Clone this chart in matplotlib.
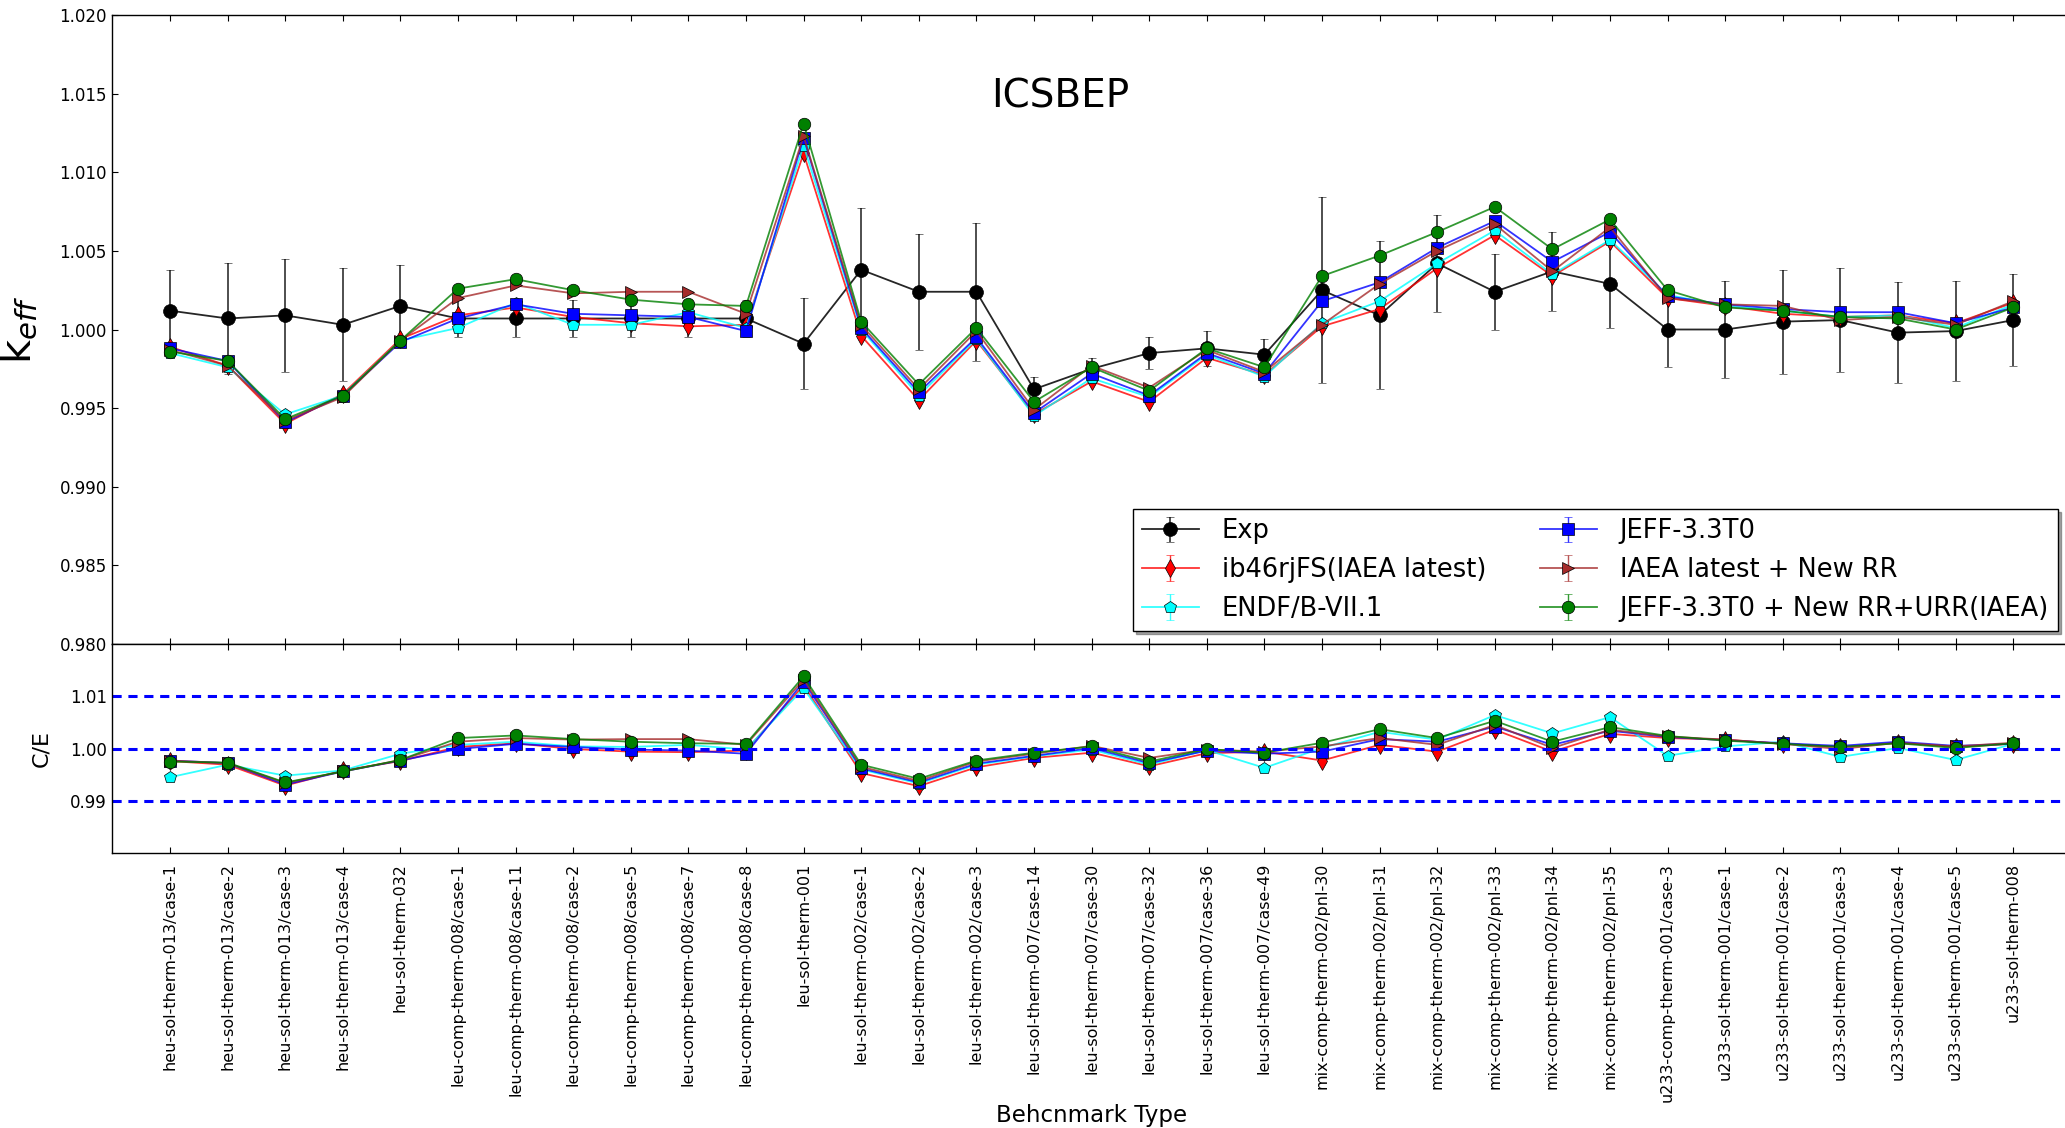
import matplotlib
matplotlib.use("Agg")
import matplotlib.pyplot as plt
from matplotlib.ticker import FormatStrFormatter, MultipleLocator

benchmarks = [
    "heu-sol-therm-013/case-1", "heu-sol-therm-013/case-2", "heu-sol-therm-013/case-3",
    "heu-sol-therm-013/case-4", "heu-sol-therm-032", "leu-comp-therm-008/case-1",
    "leu-comp-therm-008/case-11", "leu-comp-therm-008/case-2", "leu-comp-therm-008/case-5",
    "leu-comp-therm-008/case-7", "leu-comp-therm-008/case-8", "leu-sol-therm-001",
    "leu-sol-therm-002/case-1", "leu-sol-therm-002/case-2", "leu-sol-therm-002/case-3",
    "leu-sol-therm-007/case-14", "leu-sol-therm-007/case-30", "leu-sol-therm-007/case-32",
    "leu-sol-therm-007/case-36", "leu-sol-therm-007/case-49", "mix-comp-therm-002/pnl-30",
    "mix-comp-therm-002/pnl-31", "mix-comp-therm-002/pnl-32", "mix-comp-therm-002/pnl-33",
    "mix-comp-therm-002/pnl-34", "mix-comp-therm-002/pnl-35", "u233-comp-therm-001/case-3",
    "u233-sol-therm-001/case-1", "u233-sol-therm-001/case-2", "u233-sol-therm-001/case-3",
    "u233-sol-therm-001/case-4", "u233-sol-therm-001/case-5", "u233-sol-therm-008",
]

# benchmark k_eff and its 1-sigma uncertainty
exp_keff = [1.0012, 1.0007, 1.0009, 1.0003, 1.0015, 1.0007, 1.0007, 1.0007, 1.0007, 1.0007, 1.0007,
            0.9991, 1.0038, 1.0024, 1.0024, 0.9962, 0.9975, 0.9985, 0.9988, 0.9984, 1.0025, 1.0009,
            1.0042, 1.0024, 1.0037, 1.0029, 1.0000, 1.0000, 1.0005, 1.0006, 0.9998, 0.9999, 1.0006]
exp_err = [0.0026, 0.0035, 0.0036, 0.0036, 0.0026, 0.0012, 0.0012, 0.0012, 0.0012, 0.0012, 0.0012,
           0.0029, 0.0039, 0.0037, 0.0044, 0.0008, 0.0007, 0.0010, 0.0011, 0.0010, 0.0059, 0.0047,
           0.0031, 0.0024, 0.0025, 0.0028, 0.0024, 0.0031, 0.0033, 0.0033, 0.0032, 0.0032, 0.0029]

# calculated k_eff per library
keff_ib46 = [0.9989, 0.9977, 0.9940, 0.9959, 0.9994, 1.0009, 1.0014, 1.0008, 1.0004, 1.0002, 1.0003,
             1.0112, 0.9996, 0.9955, 0.9993, 0.9946, 0.9967, 0.9954, 0.9982, 0.9971, 1.0002, 1.0013,
             1.0039, 1.0060, 1.0034, 1.0056, 1.0020, 1.0015, 1.0010, 1.0008, 1.0009, 1.0004, 1.0017]
keff_endf = [0.9985, 0.9976, 0.9946, 0.9958, 0.9993, 1.0001, 1.0017, 1.0003, 1.0003, 1.0011, 1.0001,
             1.0117, 1.0000, 0.9958, 0.9994, 0.9945, 0.9969, 0.9957, 0.9984, 0.9970, 1.0004, 1.0018,
             1.0042, 1.0063, 1.0035, 1.0057, 1.0022, 1.0015, 1.0012, 1.0008, 1.0009, 1.0001, 1.0016]
keff_jeff = [0.9988, 0.9980, 0.9941, 0.9958, 0.9992, 1.0007, 1.0016, 1.0010, 1.0009, 1.0008, 0.9999,
             1.0122, 1.0001, 0.9960, 0.9995, 0.9947, 0.9972, 0.9958, 0.9985, 0.9972, 1.0018, 1.0030,
             1.0052, 1.0069, 1.0043, 1.0062, 1.0021, 1.0016, 1.0013, 1.0011, 1.0011, 1.0004, 1.0014]
keff_iaea_rr = [0.9987, 0.9977, 0.9942, 0.9957, 0.9993, 1.0020, 1.0028, 1.0023, 1.0024, 1.0024, 1.0010,
                1.0123, 1.0003, 0.9962, 0.9999, 0.9949, 0.9977, 0.9963, 0.9987, 0.9973, 1.0003, 1.0029,
                1.0050, 1.0067, 1.0037, 1.0065, 1.0020, 1.0016, 1.0015, 1.0006, 1.0008, 1.0003, 1.0018]
keff_jeff_rr = [0.9986, 0.9980, 0.9943, 0.9958, 0.9993, 1.0026, 1.0032, 1.0025, 1.0019, 1.0016, 1.0015,
                1.0131, 1.0005, 0.9965, 1.0001, 0.9954, 0.9976, 0.9961, 0.9988, 0.9976, 1.0034, 1.0047,
                1.0062, 1.0078, 1.0051, 1.0070, 1.0025, 1.0014, 1.0012, 1.0008, 1.0007, 1.0000, 1.0014]
stat_err = 0.00005

# C/E per library
ce_ib46 = [0.9976, 0.9969, 0.9929, 0.9958, 0.9976, 1.0003, 1.0010, 0.9999, 0.9994, 0.9993, 0.9996,
           1.0121, 0.9953, 0.9928, 0.9964, 0.9982, 0.9992, 0.9966, 0.9991, 0.9994, 0.9977, 1.0007,
           0.9994, 1.0036, 0.9994, 1.0028, 1.0020, 1.0017, 1.0009, 1.0003, 1.0011, 1.0003, 1.0009]
ce_endf = [0.9945, 0.9969, 0.9948, 0.9958, 0.9990, 1.0007, 1.0013, 1.0004, 1.0003, 1.0007, 0.9998,
           1.0115, 0.9960, 0.9933, 0.9969, 0.9985, 0.9998, 0.9969, 0.9997, 0.9963, 1.0001, 1.0032,
           1.0017, 1.0064, 1.0029, 1.0060, 0.9986, 1.0004, 1.0013, 0.9984, 1.0001, 0.9978, 1.0009]
ce_jeff = [0.9977, 0.9972, 0.9931, 0.9956, 0.9977, 0.9999, 1.0009, 1.0003, 0.9998, 0.9996, 0.9990,
           1.0128, 0.9962, 0.9935, 0.9971, 0.9986, 1.0001, 0.9972, 0.9996, 0.9990, 0.9994, 1.0018,
           1.0013, 1.0042, 1.0007, 1.0034, 1.0022, 1.0016, 1.0010, 1.0005, 1.0013, 1.0005, 1.0009]
ce_iaea_rr = [0.9977, 0.9972, 0.9934, 0.9956, 0.9978, 1.0013, 1.0020, 1.0017, 1.0018, 1.0018, 1.0007,
              1.0132, 0.9965, 0.9938, 0.9975, 0.9990, 1.0005, 0.9982, 0.9998, 0.9994, 1.0004, 1.0020,
              1.0007, 1.0045, 1.0001, 1.0036, 1.0023, 1.0017, 1.0009, 0.9999, 1.0011, 1.0004, 1.0011]
ce_jeff_rr = [0.9975, 0.9973, 0.9935, 0.9956, 0.9978, 1.0020, 1.0025, 1.0018, 1.0013, 1.0010, 1.0009,
              1.0138, 0.9969, 0.9942, 0.9977, 0.9992, 1.0004, 0.9975, 0.9999, 0.9992, 1.0011, 1.0037,
              1.0020, 1.0053, 1.0013, 1.0041, 1.0024, 1.0015, 1.0009, 1.0003, 1.0010, 1.0001, 1.0010]

libraries = [
    ("ib46rjFS(IAEA latest)", keff_ib46, ce_ib46, (1.0, 0.0, 0.0), "d"),
    ("ENDF/B-VII.1", keff_endf, ce_endf, (0.0, 1.0, 1.0), "p"),
    ("JEFF-3.3T0", keff_jeff, ce_jeff, (0.0, 0.0, 1.0), "s"),
    ("IAEA latest + New RR", keff_iaea_rr, ce_iaea_rr, (0.647, 0.165, 0.165), ">"),
    ("JEFF-3.3T0 + New RR+URR(IAEA)", keff_jeff_rr, ce_jeff_rr, (0.0, 0.5, 0.0), "o"),
]

plt.rcParams.update({
    "font.family": "DejaVu Sans",
    "xtick.direction": "in",
    "ytick.direction": "in",
    "xtick.top": True,
    "ytick.right": True,
    "xtick.major.size": 4,
    "ytick.major.size": 4,
    "axes.linewidth": 1.0,
})

x = list(range(len(benchmarks)))

fig = plt.figure(figsize=(20.65, 11.28), dpi=100)
ax = fig.add_axes([0.05443, 0.42908, 0.94838, 0.55762])
ax_ce = fig.add_axes([0.05443, 0.24379, 0.94838, 0.18528], sharex=ax)

ax.errorbar(x, exp_keff, yerr=exp_err, color=(0, 0, 0, 0.85), ecolor=(0, 0, 0, 0.75),
            marker="o", ms=10, mfc="k", mec="k", mew=0.5, lw=1.3, capsize=3,
            elinewidth=1.3, label="Exp")

for name, keff, ce, col, mk in libraries:
    line_col = col + (0.8,)
    ax.errorbar(x, keff, yerr=stat_err, color=line_col, ecolor=line_col, marker=mk,
                ms=9, mfc=col, mec="k", mew=0.5, lw=1.3, capsize=3, elinewidth=1.0,
                label=name)
    ax_ce.plot(x, ce, color=line_col, marker=mk, ms=9, mfc=col, mec="k", mew=0.5, lw=1.3)

ax.set_xlim(-1, 33)
ax.set_ylim(0.980, 1.020)
ax.yaxis.set_major_locator(MultipleLocator(0.005))
ax.yaxis.set_major_formatter(FormatStrFormatter("%.3f"))
ax.xaxis.set_major_locator(MultipleLocator(5))
ax.tick_params(axis="x", labelbottom=False)
ax.tick_params(axis="y", labelsize=12, pad=4)
ax.set_ylabel(r"k$_{eff}$", fontsize=30)
ax.yaxis.set_label_coords(-0.037, 0.5)
ax.text(0.484, 0.871, "ICSBEP", transform=ax.transAxes, fontsize=28,
        ha="center", va="center")

ax.legend(loc="lower right", ncol=2, numpoints=1, fontsize=18.5, shadow=True,
          fancybox=False, framealpha=1.0, edgecolor="k", handlelength=2.2,
          labelspacing=0.5, columnspacing=2.1, borderpad=0.35, handletextpad=0.9)

for level in (0.99, 1.00, 1.01):
    ax_ce.axhline(level, color="b", lw=2.2, dashes=(3, 2.2))
ax_ce.set_ylim(0.98, 1.02)
ax_ce.set_yticks([0.99, 1.00, 1.01])
ax_ce.yaxis.set_major_formatter(FormatStrFormatter("%.2f"))
ax_ce.set_xticks(x)
ax_ce.set_xticklabels(benchmarks, rotation=90, fontsize=11.5)
ax_ce.tick_params(axis="x", pad=7)
ax_ce.tick_params(axis="y", labelsize=12, pad=4)
ax_ce.set_xlim(-1, 33)
ax_ce.set_ylabel("C/E", fontsize=16)
ax_ce.yaxis.set_label_coords(-0.031, 0.5)
ax_ce.set_xlabel("Behcnmark Type", fontsize=16.5)
ax_ce.xaxis.set_label_coords(0.5, -1.2)

fig.savefig("out.png", dpi=100, facecolor="white")
